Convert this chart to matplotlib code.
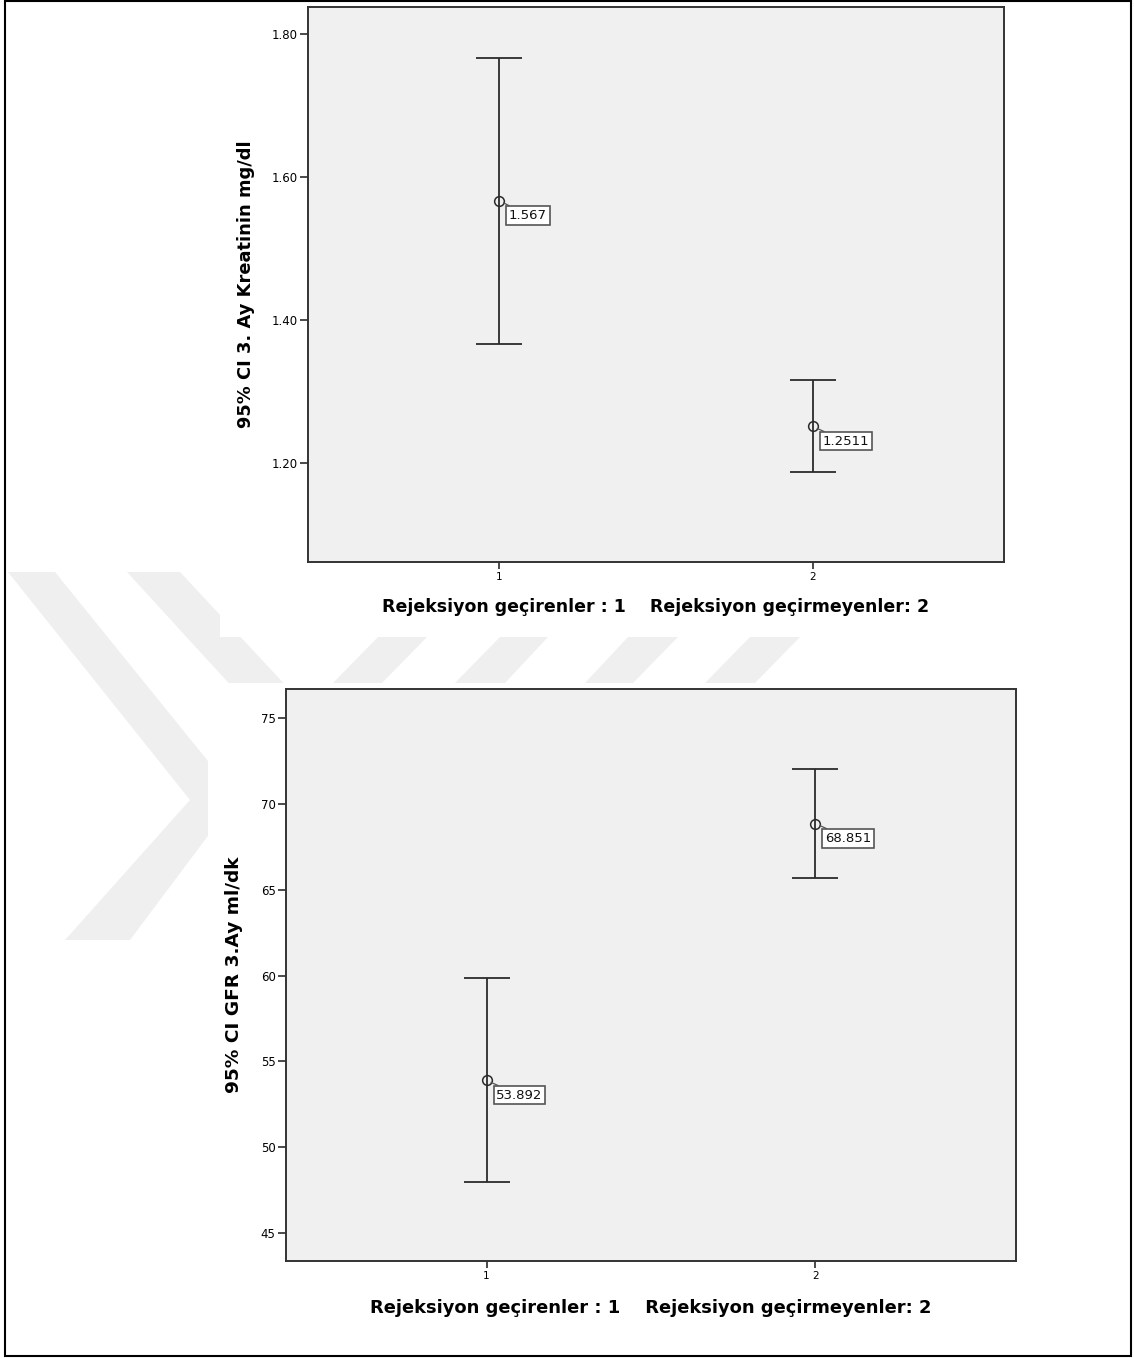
import numpy as np
import matplotlib
matplotlib.use("Agg")
import matplotlib.pyplot as plt
from matplotlib.patches import Polygon, Rectangle

# --- data ---
groups = [1, 2]
group_ticklabels = ["1", "2"]
group_title = "Rejeksiyon geçirenler : 1    Rejeksiyon geçirmeyenler: 2"

kreatinin_mean = [1.567, 1.2511]
kreatinin_low = [1.367, 1.187]
kreatinin_high = [1.767, 1.316]
kreatinin_ticks = [1.20, 1.40, 1.60, 1.80]

gfr_mean = [53.892, 68.851]
gfr_low = [47.95, 65.70]
gfr_high = [59.88, 72.02]
gfr_ticks = [45, 50, 55, 60, 65, 70, 75]

W, H = 1134, 1358
DARK = "#2b2b2b"


def fx(px):
    return px / W


def fy(py):
    return 1 - py / H


def pix_poly(points, **kw):
    return Polygon([(fx(x), fy(y)) for x, y in points], closed=True,
                   transform=fig.transFigure, **kw)


fig = plt.figure(figsize=(W / 100, H / 100), dpi=100)
fig.patch.set_facecolor("white")

# faint watermark behind the two chart images
wm = "#efefef"
shapes = [
    [(8, 572), (55, 572), (237, 797), (130, 940), (65, 940), (190, 800)],
    [(127, 572), (180, 572), (290, 690), (235, 690)],
    [(378, 637), (427, 637), (382, 683), (333, 683)],
    [(500, 637), (548, 637), (505, 683), (455, 683)],
    [(628, 637), (678, 637), (633, 683), (585, 683)],
    [(750, 637), (800, 637), (755, 683), (705, 683)],
]
for pts in shapes:
    fig.patches.append(pix_poly(pts, facecolor=wm, edgecolor="none", zorder=-3))
# white backgrounds of the pasted chart images
for x0, y0, x1, y1 in [(220, 0, 1131, 637), (208, 683, 1131, 1356)]:
    fig.patches.append(Rectangle((fx(x0), fy(y1)), fx(x1) - fx(x0), fy(y0) - fy(y1),
                                 transform=fig.transFigure, facecolor="white",
                                 edgecolor="none", zorder=-2))
# page frame
fig.patches.append(Rectangle((fx(5), fy(1356)), fx(1131) - fx(5), fy(0.5) - fy(1356),
                             transform=fig.transFigure, facecolor="none",
                             edgecolor="black", lw=1.5, zorder=5))


def ci_panel(rect, means, lows, highs, yticks, ylim, fmt, ylabel, ylab_x, xlab_y,
             ylab_size, xlab_size):
    ax = fig.add_axes(rect)
    ax.set_facecolor("#f0f0f0")
    means = np.array(means)
    err = [means - np.array(lows), np.array(highs) - means]
    ax.errorbar(groups, means, yerr=err, fmt="none", ecolor=DARK, elinewidth=1.3,
                capsize=16.5, capthick=1.3, zorder=3)
    ax.plot(groups, means, "o", ms=7, mfc="none", mec=DARK, mew=1.1, zorder=4)
    for g, m in zip(groups, means):
        ax.annotate(f"{m:g}", xy=(g, m), xytext=(7, -6), textcoords="offset points",
                    ha="left", va="top", fontsize=9.5, color="#111111",
                    bbox=dict(boxstyle="square,pad=0.2", fc="white", ec="#555555", lw=1.2),
                    arrowprops=dict(arrowstyle="-", color="#555555", lw=0.9,
                                    shrinkA=0, shrinkB=3.5),
                    zorder=5)
    ax.set_xlim(0.39, 2.61)
    ax.set_ylim(*ylim)
    ax.set_xticks(groups)
    ax.set_xticklabels(group_ticklabels, fontsize=7.5)
    ax.set_yticks(yticks)
    ax.set_yticklabels([fmt.format(t) for t in yticks], fontsize=8.5)
    ax.tick_params(axis="y", length=6, width=1.2, color=DARK, pad=1.5)
    ax.tick_params(axis="x", length=5, width=1.2, color=DARK, pad=2)
    for s in ax.spines.values():
        s.set_color("#333333")
        s.set_linewidth(1.4)
    ax.set_ylabel(ylabel, fontsize=ylab_size, fontweight="bold")
    ax.yaxis.set_label_coords(ylab_x, 0.5)
    ax.set_xlabel(group_title, fontsize=xlab_size, fontweight="bold")
    ax.xaxis.set_label_coords(0.5, xlab_y)
    return ax


ci_panel([fx(308), fy(562), fx(1004) - fx(308), fy(7) - fy(562)],
         kreatinin_mean, kreatinin_low, kreatinin_high, kreatinin_ticks,
         (1.0615, 1.8378), "{:.2f}", "95% CI 3. Ay Kreatinin mg/dl", -0.076, -0.065,
         12.9, 12.5)

ci_panel([fx(286), fy(1261), fx(1016) - fx(286), fy(689) - fy(1261)],
         gfr_mean, gfr_low, gfr_high, gfr_ticks,
         (43.37, 76.69), "{:d}", "95% CI GFR 3.Ay ml/dk", -0.059, -0.066,
         13.3, 12.9)

fig.savefig("out.png", dpi=100)
